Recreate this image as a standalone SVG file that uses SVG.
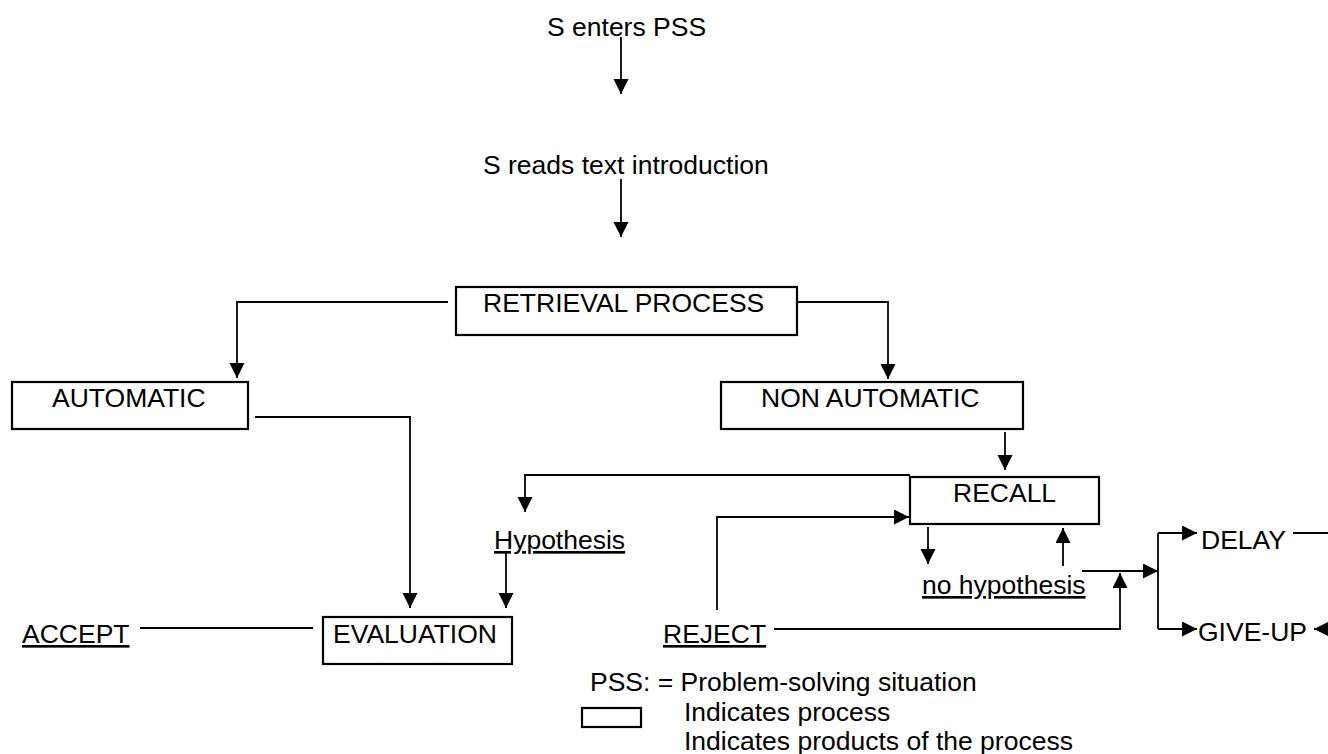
<svg xmlns="http://www.w3.org/2000/svg" width="1328" height="754" viewBox="0 0 1328 754">
<style>
text{font-family:"Liberation Sans",Arial,sans-serif;font-size:26.5px;fill:#000}
.u{text-decoration:underline}
.box{fill:#fff;stroke:#000;stroke-width:2.2}
.c{fill:none;stroke:#000;stroke-width:1.8}
.a{fill:none;stroke:#000;stroke-width:1.8;marker-end:url(#ah)}
</style>
<defs>
<marker id="ah" markerUnits="userSpaceOnUse" markerWidth="16" markerHeight="16" refX="15" refY="7.5" orient="auto">
<path d="M0,0 L15,7.5 L0,15 z" fill="#000"/>
</marker>
</defs>
<rect width="1328" height="754" fill="#fff"/>
<g id="connectors">
<path class="a" d="M621,37 V94"/>
<path class="a" d="M621,179 V237"/>
<path class="a" d="M448,302 H237 V378"/>
<path class="a" d="M797,302 H888 V379"/>
<path class="a" d="M255,417 H410 V608"/>
<path class="a" d="M1005,432 V470"/>
<path class="a" d="M910,475 H525 V512"/>
<path class="a" d="M506,553 V608"/>
<path class="c" d="M140,628 H313"/>
<path class="a" d="M717,610 V517 H909"/>
<path class="a" d="M928,527 V564"/>
<path class="a" d="M1063,566 V528"/>
<path class="a" d="M774,629 H1120 V573"/>
<path class="a" d="M1082,571 H1158"/>
<path class="c" d="M1158,533 V629"/>
<path class="a" d="M1158,533 H1197"/>
<path class="a" d="M1158,629 H1197"/>
<path class="a" d="M1293,533 H1345 V629 H1314"/>
</g>
<g id="n-enters"><text x="547" y="36">S enters PSS</text></g>
<g id="n-reads"><text x="483" y="174">S reads text introduction</text></g>
<g id="n-retrieval"><rect class="box" x="456" y="287" width="341" height="48"/><text x="483" y="312">RETRIEVAL PROCESS</text></g>
<g id="n-automatic"><rect class="box" x="12" y="382" width="236" height="47"/><text x="52" y="407">AUTOMATIC</text></g>
<g id="n-nonautomatic"><rect class="box" x="721" y="382" width="302" height="47"/><text x="761" y="407">NON AUTOMATIC</text></g>
<g id="n-recall"><rect class="box" x="910" y="477" width="189" height="47"/><text x="953" y="502">RECALL</text></g>
<g id="n-hypothesis"><text class="u" x="494" y="549">Hypothesis</text></g>
<g id="n-nohypothesis"><text class="u" x="922" y="594">no hypothesis</text></g>
<g id="n-accept"><text class="u" x="22" y="643">ACCEPT</text></g>
<g id="n-evaluation"><rect class="box" x="323" y="617" width="189" height="47"/><text x="333" y="643">EVALUATION</text></g>
<g id="n-reject"><text class="u" x="663" y="643">REJECT</text></g>
<g id="n-delay"><text x="1201" y="549">DELAY</text></g>
<g id="n-giveup"><text x="1198" y="641">GIVE-UP</text></g>
<g id="legend">
<text x="590" y="691">PSS: = Problem-solving situation</text>
<rect class="box" x="582" y="708" width="59" height="19" stroke-width="1.8"/>
<text x="684" y="721">Indicates process</text>
<text x="684" y="750">Indicates products of the process</text>
</g>
</svg>
